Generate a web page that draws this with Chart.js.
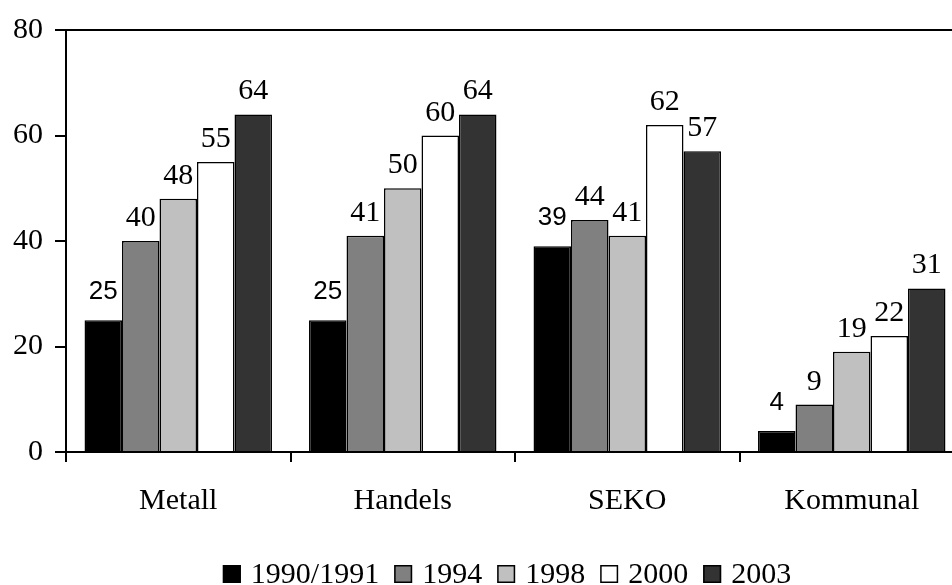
<!DOCTYPE html>
<html>
<head>
<meta charset="utf-8">
<script src="https://cdn.jsdelivr.net/npm/chart.js@4/dist/chart.umd.min.js"></script>
<style>
html,body{margin:0;padding:0;background:#fff;overflow:hidden;}
#wrap{width:964px;height:585px;position:relative;}
</style>
</head>
<body>
<div id="wrap"><canvas id="c"></canvas></div>
<script>
const categories = ['Metall', 'Handels', 'SEKO', 'Kommunal'];
const seriesNames = ['1990/1991', '1994', '1998', '2000', '2003'];
const s1990 = [25, 25, 39, 4];
const s1994 = [40, 41, 44, 9];
const s1998 = [48, 50, 41, 19];
const s2000 = [55, 60, 62, 22];
const s2003 = [64, 64, 57, 31];
const yTicks = [0, 20, 40, 60, 80];

const colors = ['#000000', '#808080', '#c0c0c0', '#ffffff', '#333333'];
const seriesData = [s1990, s1994, s1998, s2000, s2003];
const SERIF = '"Liberation Serif", "DejaVu Serif", serif';
const SANS = '"Liberation Sans", Arial, sans-serif';

const labelPlugin = {
  id: 'barLabels',
  afterDatasetsDraw(chart) {
    const ctx = chart.ctx;
    ctx.save();
    ctx.fillStyle = '#000';
    ctx.textAlign = 'center';
    ctx.textBaseline = 'alphabetic';
    chart.data.datasets.forEach((ds, i) => {
      const meta = chart.getDatasetMeta(i);
      ctx.font = i === 0 ? '26px ' + SANS : '30px ' + SERIF;
      meta.data.forEach((bar, j) => {
        ctx.fillText(String(ds.data[j]), bar.x, bar.y - (i === 0 ? 21 : 15));
      });
    });
    ctx.restore();
  }
};

const legendPlugin = {
  id: 'bottomLegend',
  afterDraw(chart) {
    const ctx = chart.ctx;
    const box = 18, gapText = 10, gapItem = 15;
    ctx.save();
    ctx.font = '30px ' + SERIF;
    const items = chart.data.datasets.map(ds => ({
      text: ds.label, color: ds.backgroundColor, w: ctx.measureText(ds.label).width
    }));
    let total = 0;
    items.forEach((it, k) => { total += box + gapText + it.w + (k < items.length - 1 ? gapItem : 0); });
    const ca = chart.chartArea;
    let x = (ca.left + ca.right) / 2 - 8 - total / 2;
    const base = 583;
    ctx.textBaseline = 'alphabetic';
    ctx.textAlign = 'left';
    items.forEach(it => {
      ctx.fillStyle = it.color;
      ctx.fillRect(x, base - box, box, box);
      ctx.strokeStyle = '#000';
      ctx.lineWidth = 1.5;
      ctx.strokeRect(x + 0.75, base - box + 0.75, box - 1.5, box - 1.5);
      ctx.fillStyle = '#000';
      ctx.fillText(it.text, x + box + gapText, base);
      x += box + gapText + it.w + gapItem;
    });
    ctx.restore();
  }
};

new Chart(document.getElementById('c'), {
  type: 'bar',
  data: {
    labels: categories,
    datasets: seriesNames.map((n, i) => ({
      label: n,
      data: seriesData[i],
      backgroundColor: colors[i],
      borderColor: '#000',
      borderWidth: 1.5,
      categoryPercentage: 0.835,
      barPercentage: 1.0
    }))
  },
  options: {
    responsive: true,
    maintainAspectRatio: false,
    animation: false,
    layout: { padding: { top: 24, right: 0, left: 0, bottom: 73 } },
    plugins: {
      tooltip: { enabled: false },
      legend: { display: false }
    },
    scales: {
      x: {
        grid: { offset: true, drawOnChartArea: false, tickColor: '#000', tickLength: 10, lineWidth: 2 },
        border: { display: true, color: '#000', width: 2 },
        ticks: { color: '#000', font: { family: SERIF, size: 30 }, padding: 21 },
        afterFit(scale) { scale.height = 60; }
      },
      y: {
        min: 0, max: 80,
        afterBuildTicks(scale) { scale.ticks = yTicks.map(v => ({ value: v })); },
        grid: {
          color: (c) => (c.tick && c.tick.value === 80 ? '#000' : 'rgba(0,0,0,0)'),
          tickColor: '#000', tickLength: 11, lineWidth: 2
        },
        border: { display: true, color: '#000', width: 2 },
        ticks: { color: '#000', font: { family: SERIF, size: 30 }, padding: 12 },
        afterFit(scale) { scale.width = 66; }
      }
    }
  },
  plugins: [labelPlugin, legendPlugin]
});
</script>
</body>
</html>
